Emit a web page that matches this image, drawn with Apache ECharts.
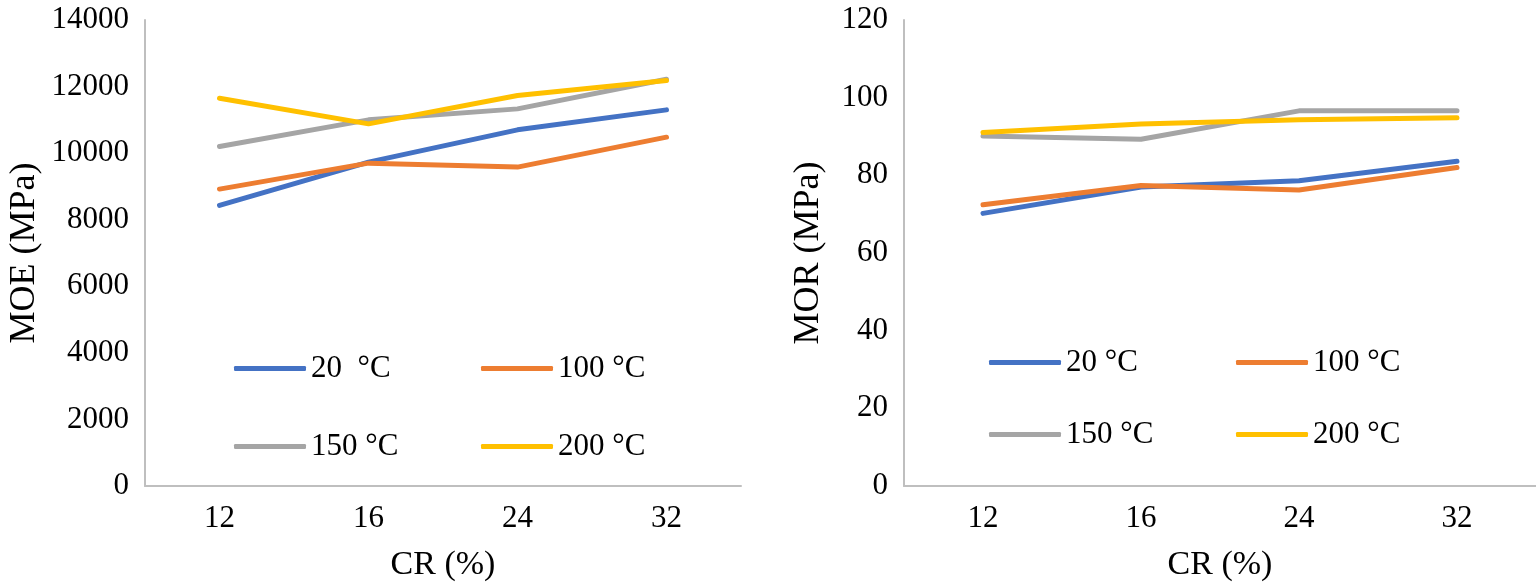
<!DOCTYPE html>
<html>
<head>
<meta charset="utf-8">
<script src="https://cdn.jsdelivr.net/npm/echarts@6/dist/echarts.min.js"></script>
<style>
  html, body { margin: 0; padding: 0; background: #fff; }
  #chart { width: 1536px; height: 587px; }
</style>
</head>
<body>
<div id="chart"></div>
<script>
var categories = ['12', '16', '24', '32'];
var leftNames = ['20  °C', '100 °C', '150 °C', '200 °C'];
var rightNames = ['20 °C', '100 °C', '150 °C', '200 °C'];
var colors = ['#4472C4', '#ED7D31', '#A5A5A5', '#FFC000'];

// MOE (MPa)
var moe20 = [8430, 9730, 10700, 11300];
var moe100 = [8920, 9700, 9580, 10480];
var moe150 = [10200, 11000, 11330, 12220];
var moe200 = [11650, 10880, 11730, 12180];

// MOR (MPa)
var mor20 = [70.2, 77.0, 78.6, 83.6];
var mor100 = [72.4, 77.4, 76.2, 82.0];
var mor150 = [90.1, 89.3, 96.6, 96.6];
var mor200 = [91.0, 93.2, 94.3, 94.8];

var font = 'Liberation Serif';
var chartDom = document.getElementById('chart');
var myChart = echarts.init(chartDom);

function lineSeries(name, data, idx, color) {
  return {
    name: name,
    type: 'line',
    xAxisIndex: idx,
    yAxisIndex: idx,
    data: data,
    symbol: 'none',
    color: color,
    lineStyle: { width: 5, color: color, cap: 'round', join: 'round' },
    animation: false
  };
}

// text sits 5px after the icon in echarts, so the column spacing comes from width + itemGap
function legendRow(names, left, top) {
  return {
    data: names,
    left: left,
    top: top,
    padding: 0,
    icon: 'roundRect',
    itemWidth: 72,
    itemHeight: 5,
    itemGap: 10,
    selectedMode: false,
    textStyle: { fontFamily: font, fontSize: 31, color: '#000', width: 160, lineHeight: 31 }
  };
}

function xAx(idx) {
  return {
    type: 'category',
    gridIndex: idx,
    data: categories,
    boundaryGap: true,
    name: 'CR (%)',
    nameLocation: 'middle',
    nameGap: 62,
    nameTextStyle: { fontFamily: font, fontSize: 34, color: '#000' },
    axisLine: { lineStyle: { color: '#bfbfbf', width: 2 } },
    axisTick: { show: false },
    axisLabel: { fontFamily: font, fontSize: 31, color: '#000', margin: 17 }
  };
}

function yAx(idx, name, max, interval, gap) {
  return {
    type: 'value',
    gridIndex: idx,
    min: 0,
    max: max,
    interval: interval,
    name: name,
    nameLocation: 'middle',
    nameGap: gap,
    nameTextStyle: { fontFamily: font, fontSize: 36, color: '#000' },
    axisLine: { show: true, lineStyle: { color: '#bfbfbf', width: 2 } },
    axisTick: { show: false },
    splitLine: { show: false },
    axisLabel: {
      fontFamily: font, fontSize: 31, color: '#000', margin: 16,
      formatter: function (v) { return String(v); }
    }
  };
}

var option = {
  backgroundColor: '#fff',
  grid: [
    { left: 145, top: 20, width: 596, height: 466 },
    { left: 904, top: 20, width: 632, height: 469 }
  ],
  xAxis: [xAx(0), xAx(1)],
  yAxis: [
    yAx(0, 'MOE (MPa)', 14000, 2000, 102),
    yAx(1, 'MOR (MPa)', 120, 20, 77)
  ],
  legend: [
    legendRow([leftNames[0], leftNames[1]], 234, 353),
    legendRow([leftNames[2], leftNames[3]], 234, 431),
    legendRow([rightNames[0], rightNames[1]], 989, 347),
    legendRow([rightNames[2], rightNames[3]], 989, 419)
  ],
  series: [
    lineSeries(leftNames[0], moe20, 0, colors[0]),
    lineSeries(leftNames[1], moe100, 0, colors[1]),
    lineSeries(leftNames[2], moe150, 0, colors[2]),
    lineSeries(leftNames[3], moe200, 0, colors[3]),
    lineSeries(rightNames[0], mor20, 1, colors[0]),
    lineSeries(rightNames[1], mor100, 1, colors[1]),
    lineSeries(rightNames[2], mor150, 1, colors[2]),
    lineSeries(rightNames[3], mor200, 1, colors[3])
  ]
};

myChart.setOption(option);
</script>
</body>
</html>
